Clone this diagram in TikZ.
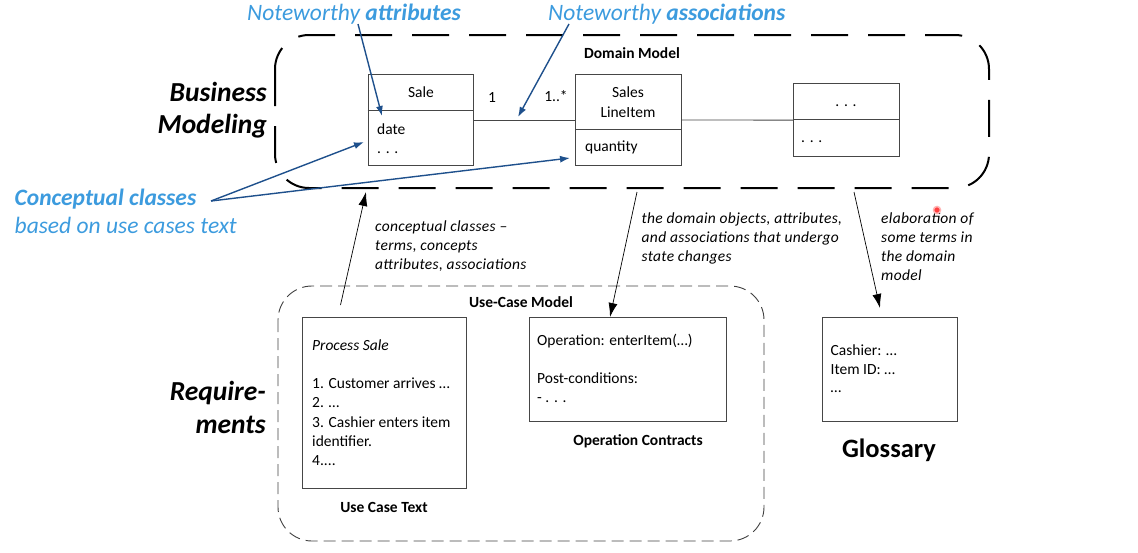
\documentclass[tikz,border=0pt]{standalone}
\usepackage{fontspec}
\setmainfont{Carlito}
\usetikzlibrary{arrows.meta, positioning}
\definecolor{noteblue}{RGB}{60,155,222}
\definecolor{arrowblue}{RGB}{30,80,140}
\definecolor{boxgray}{RGB}{70,70,70}

\begin{document}
\begin{tikzpicture}[x=1pt, y=-1pt,
	box/.style={draw=boxgray, line width=0.9pt, inner sep=0pt, anchor=north west},
	boxline/.style={draw=boxgray, line width=0.9pt},
	txt/.style={inner sep=0pt, anchor=base west, font=\fontsize{15.5}{19.5}\selectfont},
	hdr/.style={inner sep=0pt, anchor=base, font=\bfseries\fontsize{15.5}{19.5}\selectfont},
	note/.style={inner sep=0pt, anchor=base west, font=\itshape\fontsize{15.5}{19}\selectfont\addfontfeature{LetterSpace=2}},
	bluetext/.style={inner sep=0pt, anchor=base west, text=noteblue, font=\itshape\fontsize{23.5}{28}\selectfont},
	layer/.style={inner sep=0pt, anchor=base east, font=\bfseries\itshape\fontsize{27.5}{33}\selectfont},
	domainline/.style={line width=2pt, rounded corners=34pt, dash pattern=on 37pt off 20pt},
	ucline/.style={draw=black!75, line width=0.9pt, rounded corners=34pt, dash pattern=on 12pt off 6pt},
	bluearrow/.style={draw=arrowblue, line width=1.4pt, -{Latex[length=10pt, width=7pt]}},
	notearrow/.style={draw=black, line width=0.7pt, -{Latex[length=14pt, width=9pt]}}]
	\useasboundingbox (0,0) rectangle (1138,552);
	%layers
		\node[layer] (bm1) at (267,101.5) {Business};
		\node[layer] (bm2) at (267,133) {Modeling};
		\node[layer] (rq1) at (266,400.5) {Require-};
		\node[layer] (rq2) at (266,433) {ments};
	%domain model
		\draw[domainline] (275,35) rectangle (989,188);
		\node[hdr] (dmtitle) at (632,58) {Domain Model};
		%sale
		\node[box, minimum width=105pt, minimum height=91pt] (sale) at (367.5,74) {};
		\draw[boxline] ([yshift=-36pt]sale.north west) -- ([yshift=-36pt]sale.north east);
		\node[txt, anchor=base] (salename) at (421,97.5) {Sale};
		\node[txt] (saledate) at (377,134) {date};
		\node[txt] (saledots) at (377,153) {. . .};
		%sales line item
		\node[box, minimum width=106pt, minimum height=91pt] (sli) at (575,74) {};
		\draw[boxline] ([yshift=-55.5pt]sli.north west) -- ([yshift=-55.5pt]sli.north east);
		\node[txt, anchor=base] (sliname1) at (628,97) {Sales};
		\node[txt, anchor=base] (sliname2) at (628,117) {LineItem};
		\node[txt] (sliqty) at (585,151) {quantity};
		%other class
		\node[box, minimum width=105.5pt, minimum height=72.7pt] (other) at (793,83.3) {};
		\draw[boxline] ([yshift=-36pt]other.north west) -- ([yshift=-36pt]other.north east);
		\node[txt, anchor=base] (othername) at (846,106) {. . .};
		\node[txt] (otherattr) at (801,142) {. . .};
		%associations
		\draw[boxline] (sale.east) -- (sli.west);
		\draw[boxline] (sli.east) -- (other.west);
		\node[txt, anchor=base] (mult1) at (492,102) {1};
		\node[txt, anchor=base] (mult2) at (556,101.5) {1..*};
	%blue notes
		\node[bluetext] (notattr) at (247,20) {Noteworthy \textbf{attributes}};
		\node[bluetext] (notassoc) at (548,20) {Noteworthy \textbf{associations}};
		\node[bluetext] (concl1) at (14.5,205) {\textbf{Conceptual classes}};
		\node[bluetext] (concl2) at (14.5,233) {based on use cases text};
		\coordinate (attrstart) at (358,24);
		\coordinate (attrtip) at (382,116);
		\coordinate (assocstart) at (569,24);
		\coordinate (assoctip) at (518,117);
		\coordinate (conceptstart) at (211,201);
		\coordinate (saletip) at (364,142);
		\coordinate (slitip) at (570,158);
		\draw[bluearrow] (attrstart) -- (attrtip);
		\draw[bluearrow] (assocstart) -- (assoctip);
		\draw[bluearrow] (conceptstart) -- (saletip);
		\draw[bluearrow] (conceptstart) -- (slitip);
	%use-case model
		\draw[ucline] (278,286) rectangle (764,541);
		\node[hdr] (uctitle) at (521,307.5) {Use-Case Model};
		%use case text
		\node[box, minimum width=163.5pt, minimum height=171pt] (uctext) at (302,317) {};
		\node[txt] (uc0) at (312,350.5) {\itshape Process Sale};
		\node[txt] (uc1) at (312,388.5) {1. Customer arrives …};
		\node[txt] (uc2) at (312,407.5) {2. …};
		\node[txt] (uc3) at (312,427) {3. Cashier enters item};
		\node[txt] (uc4) at (312,446) {identifier.};
		\node[txt] (uc5) at (312,465) {4....};
		\node[hdr] (uclabel) at (384,512.5) {Use Case Text};
		%operation contracts
		\node[box, minimum width=197pt, minimum height=103.5pt] (opbox) at (529,317) {};
		\node[txt] (op1) at (537,345) {Operation: enterItem(…)};
		\node[txt] (op2) at (537,383.5) {Post-conditions:};
		\node[txt] (op3) at (537,402) {- . . .};
		\node[hdr] (oplabel) at (638,445.5) {Operation Contracts};
	%glossary
		\node[box, minimum width=135pt, minimum height=104pt] (gloss) at (821.7,316.7) {};
		\node[txt] (gl1) at (830.5,355) {Cashier: …};
		\node[txt] (gl2) at (830.5,374.5) {Item ID: …};
		\node[txt] (gl3) at (830.5,392) {…};
		\node[inner sep=0pt, anchor=base, font=\bfseries\fontsize{26.5}{32}\selectfont] (glosslabel) at (889,457) {Glossary};
	%black notes
		\node[note] (cc1) at (375,231) {conceptual classes –};
		\node[note] (cc2) at (375,250) {terms, concepts};
		\node[note] (cc3) at (375,269) {attributes, associations};
		\node[note] (st1) at (641.5,223) {the domain objects, attributes,};
		\node[note] (st2) at (641.5,242.5) {and associations that undergo};
		\node[note] (st3) at (641.5,261.5) {state changes};
		\node[note] (el1) at (881,223) {elaboration of};
		\node[note] (el2) at (881,242) {some terms in};
		\node[note] (el3) at (881,261.5) {the domain};
		\node[note] (el4) at (881,280) {model};
		\coordinate (ucstart) at (340.5,305);
		\coordinate (dmtip) at (366,192);
		\coordinate (opstart) at (637,192);
		\coordinate (optip) at (610,317);
		\coordinate (glstart) at (854,192);
		\coordinate (gltip) at (880,308);
		\draw[notearrow] (ucstart) -- (dmtip);
		\draw[notearrow] (opstart) -- (optip);
		\draw[notearrow] (glstart) -- (gltip);
	%pointer
		\node[circle, fill=red!75, draw=red!30, line width=1.5pt, minimum size=7pt, inner sep=0pt] (pointer) at (937,210) {};
\end{tikzpicture}
\end{document}
